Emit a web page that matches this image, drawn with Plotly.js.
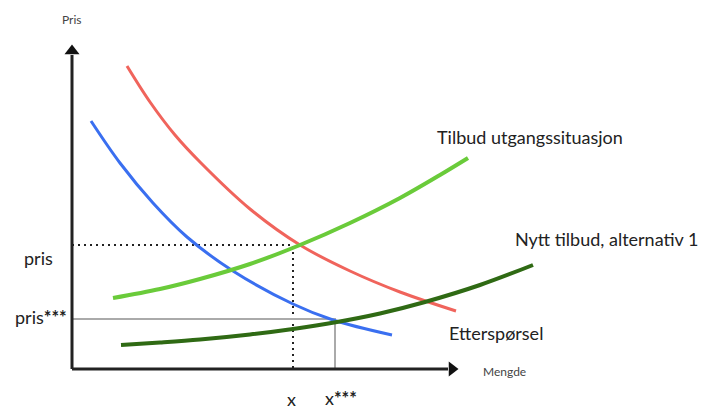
<!DOCTYPE html>
<html>
<head>
<meta charset="utf-8">
<script src="https://cdn.plot.ly/plotly-3.0.1.min.js"></script>
<style>html,body{margin:0;padding:0;background:#fff;}#chart{width:707px;height:409px;}</style>
</head>
<body>
<div id="chart"></div>
<script>
// Coordinates of the diagram (x to the right, y downward, picture units)
const redX = [127, 150, 175, 200, 250, 300, 350, 400, 456];
const redY = [66, 102, 135, 162, 209, 245, 271, 292, 311];

const blueX = [91, 120, 153, 187, 233, 293, 333, 392];
const blueY = [121, 163, 203, 237, 271, 304, 320, 335];

const lightGreenX = [113, 160, 200, 250, 300, 350, 400, 440, 468];
const lightGreenY = [298, 289, 279, 264, 245, 223, 198, 175, 158];

const darkGreenX = [121, 160, 200, 250, 293, 337, 380, 425, 480, 533];
const darkGreenY = [345, 342.5, 339.5, 334.5, 329, 322, 313.5, 302, 285, 265];

const dottedX = [72, 293, 293];
const dottedY = [245, 245, 369];

const grayX = [72, 335, 335];
const grayY = [319, 319, 369];

const yAxisX = [72, 72];
const yAxisY = [369, 55];
const xAxisX = [72, 448];
const xAxisY = [369, 369];
const yArrowX = [72];
const yArrowY = [51];
const xArrowX = [452];
const xArrowY = [369];

const FONT = 'Lato, "Open Sans", sans-serif';

const traces = [
  {x: dottedX, y: dottedY, mode: 'lines', line: {color: '#222', width: 2, dash: '2px,4px'}},
  {x: grayX, y: grayY, mode: 'lines', line: {color: '#aaaaaa', width: 2}},
  {x: redX, y: redY, mode: 'lines', line: {color: '#f0645c', width: 3, shape: 'spline', smoothing: 1}},
  {x: blueX, y: blueY, mode: 'lines', line: {color: '#3a6ff0', width: 3, shape: 'spline', smoothing: 1}},
  {x: lightGreenX, y: lightGreenY, mode: 'lines', line: {color: '#6acb3a', width: 4, shape: 'spline', smoothing: 1}},
  {x: darkGreenX, y: darkGreenY, mode: 'lines', line: {color: '#2f6a14', width: 4, shape: 'spline', smoothing: 1}},
  {x: yAxisX, y: yAxisY, mode: 'lines', line: {color: '#222', width: 3}},
  {x: xAxisX, y: xAxisY, mode: 'lines', line: {color: '#222', width: 3}},
  {x: yArrowX, y: yArrowY, mode: 'markers', marker: {symbol: 'triangle-up', size: 13, color: '#111'}},
  {x: xArrowX, y: xArrowY, mode: 'markers', marker: {symbol: 'triangle-right', size: 13, color: '#111'}}
];
traces.forEach(t => { t.hoverinfo = 'skip'; t.showlegend = false; t.cliponaxis = false; });

function label(text, x, y, size, xanchor, color) {
  return {text: text, x: x, y: y, xref: 'x', yref: 'y', showarrow: false,
          xanchor: xanchor || 'center', yanchor: 'middle',
          font: {family: FONT, size: size, color: color || '#222'}};
}

const layout = {
  width: 707, height: 409, autosize: false,
  margin: {l: 0, r: 0, t: 0, b: 0, pad: 0},
  paper_bgcolor: '#ffffff', plot_bgcolor: '#ffffff',
  xaxis: {range: [0, 707], visible: false, fixedrange: true},
  yaxis: {range: [409, 0], visible: false, fixedrange: true},
  annotations: [
    label('Pris', 72, 19, 12, 'center', '#444'),
    label('pris', 38, 258, 18),
    label('pris<b>***</b>', 69, 317, 18, 'right'),
    label('x', 291, 399, 18),
    label('x<b>***</b>', 323, 398, 18, 'left'),
    label('Mengde', 504, 371, 12, 'center', '#444'),
    label('Etterspørsel', 447, 333, 18, 'left'),
    label('Tilbud utgangssituasjon', 435, 137, 18, 'left'),
    label('Nytt tilbud, alternativ 1', 513, 239, 18, 'left')
  ]
};

Plotly.newPlot('chart', traces, layout, {displayModeBar: false, staticPlot: true});
</script>
</body>
</html>
